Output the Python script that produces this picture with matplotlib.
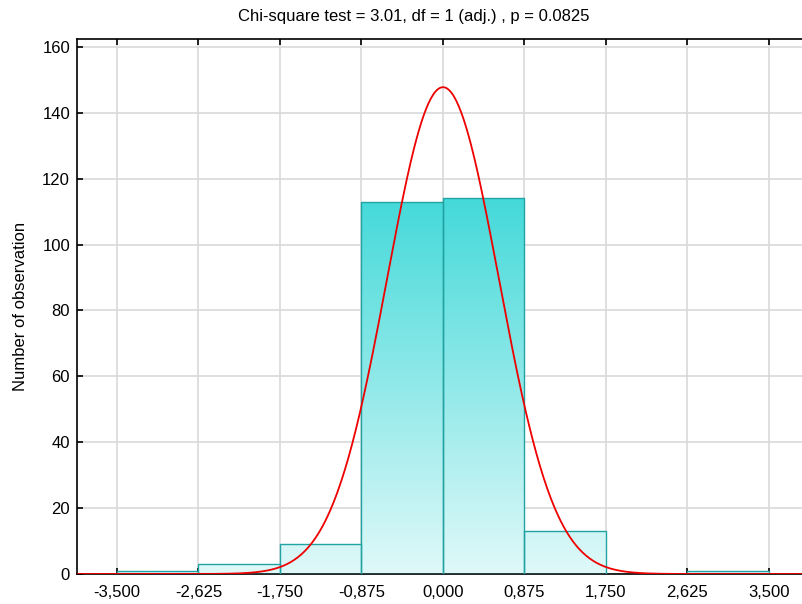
import numpy as np
import matplotlib
matplotlib.use('Agg')
from matplotlib import pyplot as plt
from matplotlib.colors import LinearSegmentedColormap
from matplotlib.patches import Rectangle

plt.rcParams['font.family'] = ['Liberation Sans', 'DejaVu Sans']

# Histogram data
bin_edges = [-3.5, -2.625, -1.75, -0.875, 0.0, 0.875, 1.75, 2.625, 3.5]
counts = [1, 3, 9, 113, 114, 13, 0, 1]
# Fitted normal curve parameters
fit_mean = 0.0
fit_sd = 0.6
n_obs = sum(counts)
tick_labels = ['-3,500', '-2,625', '-1,750', '-0,875', '0,000', '0,875', '1,750', '2,625', '3,500']
title = 'Chi-square test = 3.01, df = 1 (adj.) , p = 0.0825'

fig = plt.figure(figsize=(8.03, 6.04), dpi=100)
ax = fig.add_axes([0.0959, 0.0497, 0.9041, 0.8857])
x_lo, x_hi = -3.929, 3.865

ax.set_xticks(bin_edges)
ax.set_xticklabels(tick_labels)
ax.set_yticks(range(0, 161, 20))
ax.grid(True, color='#d9d9d9', linewidth=1.2, zorder=0)
ax.set_axisbelow(True)

# Gradient-filled bars
cmap = LinearSegmentedColormap.from_list('turq', ['#e0f9f9', '#44d9d9'])
grad = np.linspace(0, 1, 256).reshape(-1, 1)
width = bin_edges[1] - bin_edges[0]
for left, c in zip(bin_edges[:-1], counts):
    if c == 0:
        continue
    rect = Rectangle((left, 0), width, c, facecolor='none', edgecolor='#22a2a2',
                     linewidth=1.0, zorder=3)
    ax.add_patch(rect)
    im = ax.imshow(grad, cmap=cmap, origin='lower', aspect='auto',
                   extent=(x_lo, x_hi, 0, max(counts)), zorder=2)
    im.set_clip_path(rect)

# Normal curve
xs = np.linspace(x_lo, x_hi, 600)
ys = n_obs * width / (fit_sd * np.sqrt(2 * np.pi)) * np.exp(-0.5 * ((xs - fit_mean) / fit_sd) ** 2)
ax.plot(xs, ys, color='#ee0000', linewidth=1.3, zorder=4)

ax.set_xlim(x_lo, x_hi)
ax.set_ylim(0, 162.4)

ax.spines['right'].set_visible(False)
for s in ['left', 'top', 'bottom']:
    ax.spines[s].set_linewidth(1.2)
    ax.spines[s].set_color('black')
ax.tick_params(axis='x', direction='in', top=True, length=4, width=1.2, labelsize=12, pad=8)
ax.tick_params(axis='y', direction='in', length=4, width=1.2, labelsize=12, pad=5)

ax.set_ylabel('Number of observation', fontsize=12, labelpad=10)
fig.text(0.515, 0.972, title, fontsize=12, ha='center', va='center')

fig.savefig('out.png', dpi=100)
